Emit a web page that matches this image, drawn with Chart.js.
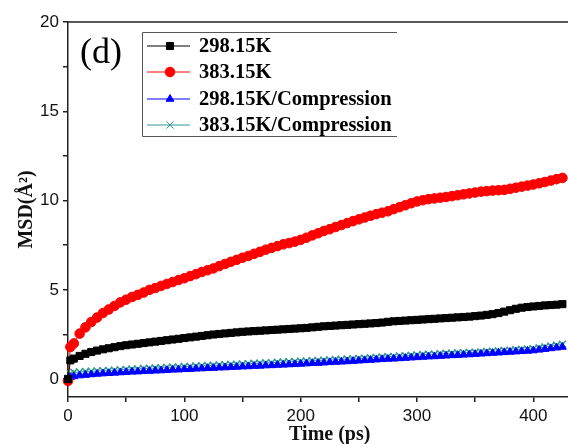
<!DOCTYPE html>
<html>
<head>
<meta charset="utf-8">
<script src="https://cdn.jsdelivr.net/npm/chart.js@4.4.1/dist/chart.umd.min.js"></script>
<style>
  body { margin: 0; background: #fff; overflow: hidden; }
  #wrap { width: 568px; height: 444px; overflow: hidden; position: relative; }
</style>
</head>
<body>
<div id="wrap">
  <canvas id="myChart" width="598" height="444"></canvas>
</div>
<script>
// time axis (ps)
const times = [0, 2, 5, 10, 15, 20, 25, 30, 35, 40, 45, 50, 55, 60, 65, 70, 75, 80, 85, 90, 95, 100,
  105, 110, 115, 120, 125, 130, 135, 140, 145, 150, 155, 160, 165, 170, 175, 180, 185, 190, 195, 200,
  205, 210, 215, 220, 225, 230, 235, 240, 245, 250, 255, 260, 265, 270, 275, 280, 285, 290, 295, 300,
  305, 310, 315, 320, 325, 330, 335, 340, 345, 350, 355, 360, 365, 370, 375, 380, 385, 390, 395, 400,
  405, 410, 415, 420, 425];

// MSD values (A^2)
const msd298 = [0, 1.05, 1.15, 1.3, 1.42, 1.52, 1.6, 1.67, 1.73, 1.79, 1.85, 1.9, 1.94, 1.98, 2.02, 2.06, 2.1, 2.14, 2.18, 2.22, 2.26, 2.3,
  2.34, 2.38, 2.42, 2.46, 2.5, 2.53, 2.56, 2.59, 2.62, 2.65, 2.67, 2.69, 2.71, 2.73, 2.75, 2.77, 2.79, 2.81, 2.83, 2.85,
  2.87, 2.9, 2.93, 2.96, 2.98, 3.0, 3.02, 3.04, 3.06, 3.08, 3.1, 3.12, 3.14, 3.17, 3.21, 3.24, 3.26, 3.28, 3.3, 3.32,
  3.34, 3.36, 3.38, 3.4, 3.42, 3.44, 3.46, 3.48, 3.5, 3.53, 3.56, 3.6, 3.64, 3.7, 3.78, 3.86, 3.94, 4.0, 4.04, 4.07,
  4.1, 4.13, 4.15, 4.17, 4.2];
const msd383 = [-0.1, 1.8, 2.0, 2.55, 2.9, 3.2, 3.45, 3.7, 3.9, 4.1, 4.3, 4.45, 4.6, 4.72, 4.85, 5.0, 5.1, 5.22, 5.33, 5.44, 5.55, 5.65,
  5.77, 5.88, 6.0, 6.1, 6.2, 6.33, 6.45, 6.57, 6.68, 6.8, 6.9, 7.02, 7.13, 7.25, 7.35, 7.45, 7.55, 7.62, 7.7, 7.8,
  7.92, 8.05, 8.17, 8.3, 8.4, 8.52, 8.63, 8.74, 8.85, 8.95, 9.05, 9.15, 9.24, 9.32, 9.4, 9.52, 9.63, 9.74, 9.85, 9.95,
  10.02, 10.08, 10.12, 10.16, 10.2, 10.25, 10.3, 10.35, 10.4, 10.45, 10.5, 10.53, 10.56, 10.58, 10.6, 10.66, 10.72, 10.78, 10.84, 10.9,
  10.97, 11.04, 11.12, 11.2, 11.27];
const msd298c = [0, 0.1, 0.15, 0.2, 0.23, 0.26, 0.29, 0.31, 0.33, 0.35, 0.37, 0.39, 0.41, 0.42, 0.44, 0.45, 0.47, 0.48, 0.5, 0.52, 0.53, 0.55,
  0.56, 0.58, 0.59, 0.61, 0.62, 0.64, 0.65, 0.67, 0.68, 0.7, 0.71, 0.73, 0.74, 0.76, 0.77, 0.79, 0.8, 0.82, 0.83, 0.85,
  0.87, 0.89, 0.9, 0.92, 0.94, 0.96, 0.97, 0.99, 1.01, 1.03, 1.05, 1.07, 1.09, 1.11, 1.13, 1.14, 1.16, 1.18, 1.2, 1.22,
  1.24, 1.26, 1.27, 1.29, 1.31, 1.33, 1.34, 1.36, 1.38, 1.4, 1.42, 1.44, 1.46, 1.48, 1.5, 1.52, 1.54, 1.56, 1.58, 1.6,
  1.64, 1.68, 1.72, 1.76, 1.8];
const msd383c = [0.05, 0.3, 0.38, 0.4, 0.42, 0.44, 0.45, 0.47, 0.48, 0.5, 0.52, 0.54, 0.56, 0.57, 0.59, 0.6, 0.62, 0.63, 0.65, 0.67, 0.68, 0.7,
  0.71, 0.73, 0.74, 0.76, 0.77, 0.79, 0.8, 0.82, 0.83, 0.85, 0.86, 0.88, 0.89, 0.91, 0.92, 0.94, 0.95, 0.97, 0.98, 1.0,
  1.01, 1.03, 1.04, 1.06, 1.07, 1.09, 1.1, 1.12, 1.13, 1.15, 1.17, 1.19, 1.21, 1.23, 1.25, 1.27, 1.29, 1.31, 1.33, 1.35,
  1.37, 1.39, 1.4, 1.42, 1.44, 1.45, 1.47, 1.48, 1.49, 1.5, 1.52, 1.54, 1.56, 1.58, 1.6, 1.62, 1.64, 1.66, 1.68, 1.7,
  1.75, 1.8, 1.85, 1.9, 1.95];

const seriesLabels = ['298.15K', '383.15K', '298.15K/Compression', '383.15K/Compression'];
const xTicks = [0, 100, 200, 300, 400];
const yTicks = [0, 5, 10, 15, 20];

const axisColor = '#222';
const tickFont = { family: '"Liberation Sans", Arial, sans-serif', size: 17 };
const titleFont = { family: '"Liberation Serif", "Times New Roman", serif', size: 20, weight: 'bold', lineHeight: 1 };

function toPoints(ys) {
    return times.map((t, i) => ({ x: t, y: ys[i] }));
}

// top frame line, panel letter and legend box inside the plot
const decorations = {
    id: 'decorations',
    afterDraw(chart) {
        const ctx = chart.ctx;
        const area = chart.chartArea;
        ctx.save();
        ctx.strokeStyle = axisColor;
        ctx.lineWidth = 1.5;
        ctx.beginPath();
        ctx.moveTo(area.left, area.top);
        ctx.lineTo(area.right, area.top);
        ctx.stroke();

        ctx.fillStyle = '#000';
        ctx.font = '36px "Liberation Serif", "Times New Roman", serif';
        ctx.textBaseline = 'alphabetic';
        ctx.fillText('(d)', 80, 63);

        // legend box (left, top, bottom edges)
        ctx.strokeStyle = '#555';
        ctx.lineWidth = 1;
        ctx.beginPath();
        ctx.moveTo(397, 32.5);
        ctx.lineTo(142.5, 32.5);
        ctx.lineTo(142.5, 136.5);
        ctx.lineTo(397, 136.5);
        ctx.stroke();

        const rows = [46, 72, 99, 125];
        chart.data.datasets.forEach((ds, i) => {
            const y = rows[i];
            ctx.strokeStyle = ds.borderColor;
            ctx.lineWidth = 1;
            ctx.beginPath();
            ctx.moveTo(147, y);
            ctx.lineTo(190, y);
            ctx.stroke();
            ctx.fillStyle = ds.backgroundColor;
            Chart.helpers.drawPoint(ctx, {
                pointStyle: ds.pointStyle,
                radius: ds.pointRadius,
                borderWidth: ds.pointBorderWidth,
                rotation: 0
            }, 170, y);
            ctx.fillStyle = '#000';
            ctx.font = 'bold 20.5px "Liberation Serif", "Times New Roman", serif';
            ctx.textBaseline = 'middle';
            ctx.fillText(ds.label, 199, y + 1);
        });
        ctx.restore();
    }
};

const mtd = document.getElementById('myChart');
new Chart(mtd, {
    type: 'line',
    data: {
        datasets: [{
            label: seriesLabels[0],
            data: toPoints(msd298),
            borderColor: '#000',
            backgroundColor: '#000',
            pointStyle: 'rect',
            pointRadius: 5,
            pointBorderWidth: 1,
            borderWidth: 1
        }, {
            label: seriesLabels[1],
            data: toPoints(msd383),
            borderColor: '#ff0000',
            backgroundColor: '#ff0000',
            pointStyle: 'circle',
            pointRadius: 4.8,
            pointBorderWidth: 1,
            borderWidth: 1
        }, {
            label: seriesLabels[2],
            data: toPoints(msd298c),
            borderColor: '#0000ff',
            backgroundColor: '#0000ff',
            pointStyle: 'triangle',
            pointRadius: 4.5,
            pointBorderWidth: 1,
            borderWidth: 1
        }, {
            label: seriesLabels[3],
            data: toPoints(msd383c),
            borderColor: '#2f9a90',
            backgroundColor: '#2f9a90',
            pointStyle: 'crossRot',
            pointRadius: 5,
            pointBorderWidth: 1.5,
            borderWidth: 1
        }]
    },
    options: {
        responsive: false,
        animation: false,
        devicePixelRatio: 1,
        layout: { padding: { left: 0, top: 22, right: 0, bottom: 0 } },
        datasets: { line: { clip: false, tension: 0 } },
        plugins: {
            legend: { display: false },
            tooltip: { enabled: false }
        },
        scales: {
            x: {
                type: 'linear',
                min: 0,
                max: 450,
                afterFit: (scale) => { scale.height = 47; },
                ticks: {
                    stepSize: 50,
                    includeBounds: false,
                    maxRotation: 0,
                    autoSkip: false,
                    padding: 4,
                    color: '#111',
                    font: tickFont,
                    callback: (v) => xTicks.includes(v) ? v : ''
                },
                grid: { drawOnChartArea: false, drawTicks: true, tickLength: 5, color: axisColor, lineWidth: 1.5 },
                border: { display: true, color: axisColor, width: 1.5 },
                title: {
                    display: true,
                    text: 'Time (ps)',
                    color: '#111',
                    font: titleFont,
                    padding: { top: 0, bottom: -1 }
                }
            },
            y: {
                min: -1,
                max: 20,
                afterFit: (scale) => { scale.width = 68; },
                ticks: {
                    stepSize: 2.5,
                    includeBounds: false,
                    autoSkip: false,
                    padding: 4,
                    color: '#111',
                    font: tickFont,
                    callback: (v) => yTicks.includes(v) ? v : ''
                },
                grid: { drawOnChartArea: false, drawTicks: true, tickLength: 5, color: axisColor, lineWidth: 1.5 },
                border: { display: true, color: axisColor, width: 1.5 },
                title: {
                    display: true,
                    text: 'MSD(Å²)',
                    color: '#111',
                    font: titleFont,
                    padding: { top: 17, bottom: 0 }
                }
            }
        }
    },
    plugins: [decorations]
});
</script>
</body>
</html>
